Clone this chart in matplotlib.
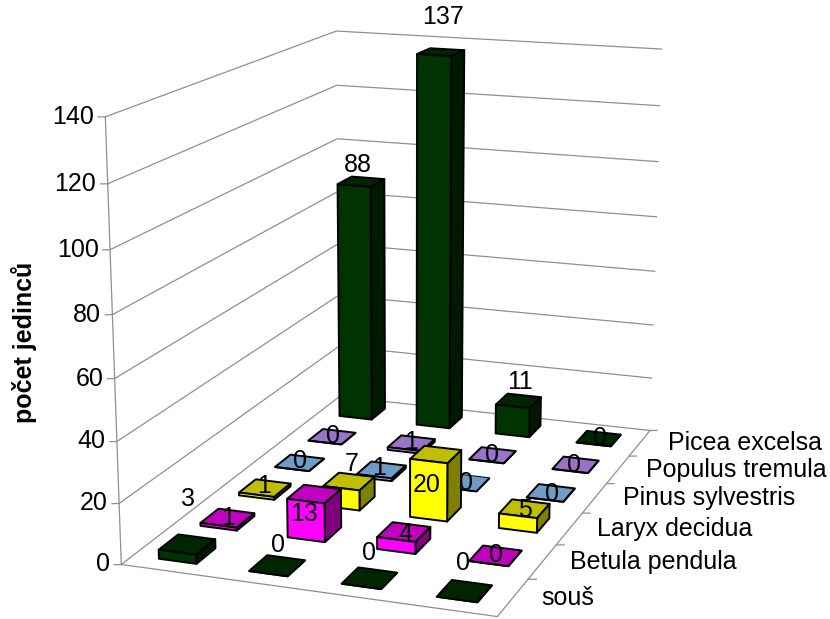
import numpy as np
import matplotlib
matplotlib.use("Agg")
import matplotlib.pyplot as plt
from mpl_toolkits.mplot3d import proj3d

plt.rcParams["font.family"] = ["Liberation Sans", "DejaVu Sans"]

# Tree counts per species (rows, front to back) and plot column.
species = ["souš", "Betula pendula", "Laryx decidua",
           "Pinus sylvestris", "Populus tremula", "Picea excelsa"]
souse = [3, 0, 0, 0]
betula = [1, 13, 4, 0]
laryx = [1, 7, 20, 5]
pinus = [0, 1, 0, 0]
populus = [0, 1, 0, 0]
picea = [88, 137, 11, 0]
rows = [souse, betula, laryx, pinus, populus, picea]
z_ticks = [0, 20, 40, 60, 80, 100, 120, 140]

# (front, side, top) shades of each species.
shades = [
    ("#003300", "#001A00", "#002600"),
    ("#FF00FF", "#800080", "#BF00BF"),
    ("#FFFF00", "#808000", "#BFBF00"),
    ("#99CCFF", "#4D6680", "#6F9BC7"),
    ("#CC99FF", "#664D80", "#9973C7"),
    ("#003300", "#001A00", "#002600"),
]

# Shift of each value label from its bar's top centre, in pixels (right, up).
label_shift = [
    [(1, 45), (1, 21), (-1, 25), (-2, 28)],
    [(0, 0), (-10, -20), (1, -2), (0, 1)],
    [(-1, 2), (3, 17), (-9, -31), (1, -1)],
    [(0, 2), (-2, 2), (1, 0), (1, -1)],
    [(1, 1), (0, 1), (-1, 0), (-2, 0)],
    [(-3, 17), (2, 35), (2, 19), (1, 1)],
]

W, H = 830, 619
BAR_DX, BAR_DY = 0.42, 0.46
GRID = "#8f8f8f"

fig = plt.figure(figsize=(W / 100, H / 100), dpi=100)
ax = fig.add_axes([-0.1, -0.2, 1.2, 1.4], projection="3d", computed_zorder=False)
ax.set_axis_off()
ax.apply_aspect()

# Camera calibration: box corners and axis ticks against their place on the canvas.
anchors = [
    ((0, 0, 0), (120.7, 564.0)), ((0, 0, 20), (119.0, 503.3)),
    ((0, 0, 40), (117.3, 441.7)), ((0, 0, 120), (107.3, 183.7)),
    ((0, 0, 140), (105.7, 117.3)), ((4, 0, 0), (497.0, 617.0)),
    ((4, 1, 0), (528.3, 579.3)), ((4, 2, 0), (556.7, 545.0)),
    ((4, 3, 0), (581.7, 512.7)), ((4, 4, 0), (606.7, 483.3)),
    ((4, 5, 0), (630.0, 456.0)), ((4, 6, 0), (649.0, 431.0)),
    ((4, 6, 100), (657.7, 161.7)), ((4, 6, 120), (659.7, 106.0)),
    ((4, 6, 140), (661.7, 48.7)), ((0, 6, 0), (340.0, 397.0)),
    ((0, 6, 100), (336.7, 138.3)), ((0, 6, 120), (336.7, 85.0)),
    ((0, 6, 140), (336.7, 31.3)),
]
to_axes = ax.transData.inverted()
rowsA = []
for (X, Y, Z), (px, py) in anchors:
    u, v = to_axes.transform((px, H - py))
    Zs = Z / 20
    rowsA.append([X, Y, Zs, 1, 0, 0, 0, 0, -u * X, -u * Y, -u * Zs, -u])
    rowsA.append([0, 0, 0, 0, X, Y, Zs, 1, -v * X, -v * Y, -v * Zs, -v])
P = np.linalg.svd(np.array(rowsA))[2][-1].reshape(3, 4)
P[:, 2] /= 20
if P[2] @ np.array([2, 3, 0, 1]) < 0:
    P = -P
M = np.vstack([P[0], P[1], [0, 0, 0, -1], P[2]])
ax.get_proj = lambda: M


def to_2d(x, y, z):
    u, v, _ = proj3d.proj_transform(x, y, z, M)
    return float(u), float(v)


# Walls and floor outline.
for z in z_ticks:
    ax.plot([0, 0, 4], [0, 6, 6], [z, z, z], color=GRID, lw=0.9, zorder=1)
    ax.plot([0, -0.063], [0, -0.03], [z, z], color=GRID, lw=0.9, zorder=1)
    ax.annotate(str(z), to_2d(0, 0, z), xytext=(-11.5, 0), textcoords="offset pixels",
                ha="right", va="center", fontsize=18, annotation_clip=False, zorder=2)
ax.plot([0, 0], [0, 0], [0, 140], color=GRID, lw=0.9, zorder=1)
ax.plot([0, 4, 4], [0, 0, 6], [0, 0, 0], color=GRID, lw=0.9, zorder=1)
for i, name in enumerate(species):
    ax.plot([4, 4.078], [i + 1, i + 1.03], [0, 0], color=GRID, lw=0.9, zorder=1)
    ax.annotate(name, to_2d(4, i + 0.5, 0), xytext=(28, 0), textcoords="offset pixels",
                ha="left", va="center", fontsize=18, annotation_clip=False, zorder=2)

# Bars, painted from the back row forward and left to right.
for r, values in enumerate(rows):
    front, side, top = shades[r]
    faces = [top, top, front, "none", "none", side]
    edges = ["none", "black", "black", "none", "none", "black"]
    for c, value in enumerate(values):
        order = 10 + 10 * (5 - r) + c
        xc, yc = c + 0.5, r + 0.5
        ax.bar3d(xc - BAR_DX / 2, yc - BAR_DY / 2, 0, BAR_DX, BAR_DY, value,
                 color=faces, edgecolors=edges, linewidths=1.4, shade=False,
                 zorder=order)
        ax.annotate(str(value), to_2d(xc, yc, value), xytext=label_shift[r][c],
                    textcoords="offset pixels", ha="center", va="center",
                    fontsize=18, annotation_clip=False, zorder=order + 0.5)

fig.text(24 / W, 1 - 342 / H, "počet jedinců", rotation=90, ha="center", va="center",
         fontsize=18, fontweight="bold")
fig.savefig("out.png", dpi=100)
